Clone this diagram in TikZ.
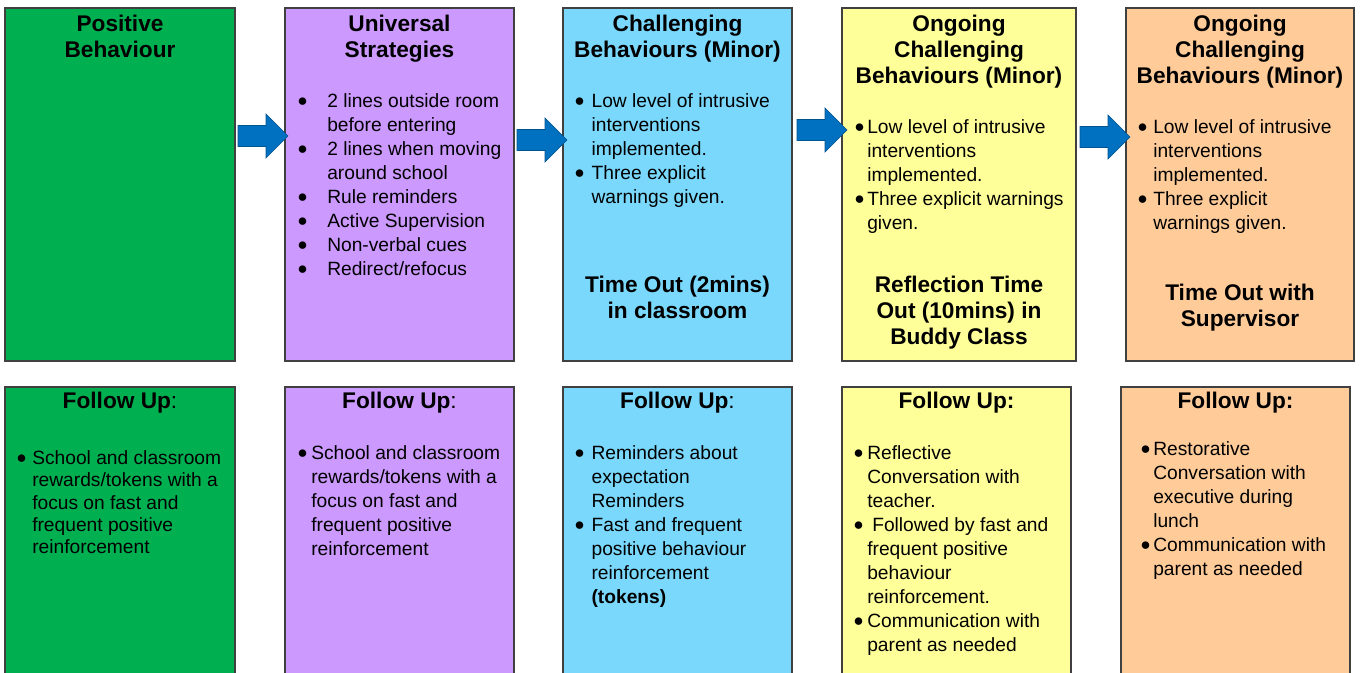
\documentclass[tikz,border=0pt]{standalone}
\usepackage{fontspec}
\setmainfont{Liberation Sans}
\definecolor{cgreen}{HTML}{00B050}
\definecolor{cpurple}{HTML}{CC99FF}
\definecolor{cblue}{HTML}{7AD8FD}
\definecolor{cyellow}{HTML}{FFFF99}
\definecolor{cpeach}{HTML}{FFCC99}
\definecolor{carrow}{HTML}{0070C0}
\definecolor{cedge}{HTML}{404040}
\newcommand\ttlfont{\fontsize{17}{19.5}\selectfont\bfseries}
\newcommand\bodyfont{\fontsize{14.4}{18}\selectfont}
\newcommand\bodyfontb{\fontsize{14.4}{16.8}\selectfont}
\newcommand\bu[1]{\makebox[#1][l]{\raisebox{0.6pt}{\fontsize{13}{13}\selectfont ●}}}
\newcommand\ii[1]{\hspace*{#1}}
\newcommand\barrow[2]{%
  \coordinate (#1) at #2;
  \draw[arr] (#1) ++(0,-10.5) -- ++(28,0) -- ++(0,-11.5) -- ++(22,22) -- ++(-22,22) -- ++(0,-11.5) -- ++(-28,0) -- cycle;}
\begin{document}
\begin{tikzpicture}[x=0.75pt,y=-0.75pt,
  box/.style={draw=cedge, line width=1.1pt, inner sep=0, outer sep=0},
  ttl/.style={anchor=north, inner sep=0, align=center, font=\ttlfont},
  bdy/.style={anchor=north west, inner sep=0, align=left, font=\bodyfont},
  arr/.style={fill=carrow, draw=carrow!75!black, line width=0.5pt}]
\useasboundingbox (0,0) rectangle (1360,673);
\clip (0,0) rectangle (1360,673);
\fill[white] (0,0) rectangle (1360,673);
% top boxes
\node[box, fill=cgreen, minimum width=172.5pt, minimum height=264.75pt] (t1) at (120,184.5) {};
\node[box, fill=cpurple, minimum width=171.75pt, minimum height=264.75pt] (t2) at (399.5,184.5) {};
\node[box, fill=cblue, minimum width=171.75pt, minimum height=264.75pt] (t3) at (677.5,184.5) {};
\node[box, fill=cyellow, minimum width=175.5pt, minimum height=264.75pt] (t4) at (959,184.5) {};
\node[box, fill=cpeach, minimum width=171pt, minimum height=264.75pt] (t5) at (1240,184.5) {};
% bottom boxes
\node[box, fill=cgreen, minimum width=172.5pt, minimum height=234.75pt] (b1) at (120,543.5) {};
\node[box, fill=cpurple, minimum width=171.75pt, minimum height=234.75pt] (b2) at (399.5,543.5) {};
\node[box, fill=cblue, minimum width=171.75pt, minimum height=234.75pt] (b3) at (677.5,543.5) {};
\node[box, fill=cyellow, minimum width=171.75pt, minimum height=234.75pt] (b4) at (956.5,543.5) {};
\node[box, fill=cpeach, minimum width=171.75pt, minimum height=234.75pt] (b5) at (1235.5,543.5) {};
% arrows
\barrow{a1}{(238,136)}
\barrow{a2}{(517,140)}
\barrow{a3}{(797,130)}
\barrow{a4}{(1080,137)}
% top titles
\node[ttl] (h1) at (120,12.8) {\strut Positive\\Behaviour};
\node[ttl] (h2) at (399.5,12.8) {\strut Universal\\Strategies};
\node[ttl] (h3) at (677.5,12.8) {\strut Challenging\\Behaviours (Minor)};
\node[ttl] (h4) at (959,12.8) {\strut Ongoing\\Challenging\\Behaviours (Minor)};
\node[ttl] (h5) at (1240,12.8) {\strut Ongoing\\Challenging\\Behaviours (Minor)};
% top bodies
\node[bdy] (p2) at (297,90.2) {\strut\bu{22.5pt}2 lines outside room\\\ii{22.5pt}before entering\\\bu{22.5pt}2 lines when moving\\\ii{22.5pt}around school\\\bu{22.5pt}Rule reminders\\\bu{22.5pt}Active Supervision\\\bu{22.5pt}Non-verbal cues\\\bu{22.5pt}Redirect/refocus};
\node[bdy] (p3) at (574,90.2) {\strut\bu{13pt}Low level of intrusive\\\ii{13pt}interventions\\\ii{13pt}implemented.\\\bu{13pt}Three explicit\\\ii{13pt}warnings given.};
\node[bdy] (p4) at (854,116.2) {\strut\bu{9.75pt}Low level of intrusive\\\ii{9.75pt}interventions\\\ii{9.75pt}implemented.\\\bu{9.75pt}Three explicit warnings\\\ii{9.75pt}given.};
\node[bdy] (p5) at (1137,116.2) {\strut\bu{12pt}Low level of intrusive\\\ii{12pt}interventions\\\ii{12pt}implemented.\\\bu{12pt}Three explicit\\\ii{12pt}warnings given.};
% lower titles in top boxes
\node[ttl] (s3) at (677.5,273.8) {\strut Time Out (2mins)\\in classroom};
\node[ttl] (s4) at (959,273.8) {\strut Reflection Time\\Out (10mins) in\\Buddy Class};
\node[ttl] (s5) at (1240,281.8) {\strut Time Out with\\Supervisor};
% follow up titles
\node[ttl] (f1) at (120,389.8) {\strut Follow Up\textmd{:}};
\node[ttl] (f2) at (399.5,389.8) {\strut Follow Up\textmd{:}};
\node[ttl] (f3) at (677.5,389.8) {\strut Follow Up\textmd{:}};
\node[ttl] (f4) at (956.5,389.8) {\strut Follow Up:};
\node[ttl] (f5) at (1235.5,389.8) {\strut Follow Up:};
% bottom bodies
\node[bdy, font=\bodyfontb] (q1) at (16,448.3) {\strut\bu{12pt}School and classroom\\\ii{12pt}rewards/tokens with a\\\ii{12pt}focus on fast and\\\ii{12pt}frequent positive\\\ii{12pt}reinforcement};
\node[bdy] (q2) at (297,442.2) {\strut\bu{10.5pt}School and classroom\\\ii{10.5pt}rewards/tokens with a\\\ii{10.5pt}focus on fast and\\\ii{10.5pt}frequent positive\\\ii{10.5pt}reinforcement};
\node[bdy] (q3) at (574,442.2) {\strut\bu{13pt}Reminders about\\\ii{13pt}expectation\\\ii{13pt}Reminders\\\bu{13pt}Fast and frequent\\\ii{13pt}positive behaviour\\\ii{13pt}reinforcement\\\ii{13pt}\textbf{(tokens)}};
\node[bdy] (q4) at (853,442.2) {\strut\bu{10.5pt}Reflective\\\ii{10.5pt}Conversation with\\\ii{10.5pt}teacher.\\\bu{14.25pt}Followed by fast and\\\ii{10.5pt}frequent positive\\\ii{10.5pt}behaviour\\\ii{10.5pt}reinforcement.\\\bu{10.5pt}Communication with\\\ii{10.5pt}parent as needed};
\node[bdy] (q5) at (1140,438.2) {\strut\bu{9.75pt}Restorative\\\ii{9.75pt}Conversation with\\\ii{9.75pt}executive during\\\ii{9.75pt}lunch\\\bu{9.75pt}Communication with\\\ii{9.75pt}parent as needed};
\end{tikzpicture}
\end{document}
